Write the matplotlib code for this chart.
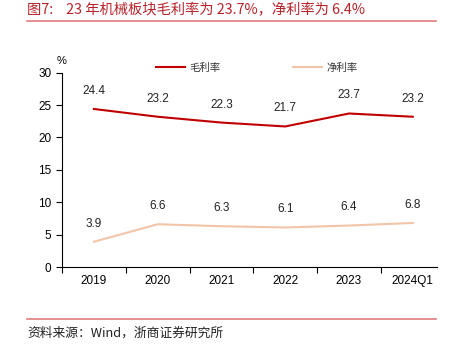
import numpy as np
import matplotlib
matplotlib.use('Agg')
import matplotlib.pyplot as plt
from matplotlib.lines import Line2D

plt.rcParams['font.family'] = ['Liberation Sans', 'Noto Sans CJK SC', 'DejaVu Sans']

years = ['2019', '2020', '2021', '2022', '2023', '2024Q1']
gross = [24.4, 23.2, 22.3, 21.7, 23.7, 23.2]
net = [3.9, 6.6, 6.3, 6.1, 6.4, 6.8]

RED = '#C00000'
PEACH = '#F2C4A8'
CJK = ['Noto Sans CJK SC', 'DejaVu Sans']

fig = plt.figure(figsize=(4.49, 3.49), dpi=100)
ax = fig.add_axes([62/449, 1-267/349, 375/449, (267-72.7)/349])

x = np.arange(len(years))
ax.plot(x, gross, color=RED, lw=1.5, label='毛利率')
ax.plot(x, net, color=PEACH, lw=1.5, label='净利率')
for xi, v in zip(x, gross):
    ax.annotate(f'{v:.1f}', (xi, v), xytext=(0, 13), textcoords='offset points',
                ha='center', va='center', fontsize=8.5, color='#222222')
for xi, v in zip(x, net):
    ax.annotate(f'{v:.1f}', (xi, v), xytext=(0, 13), textcoords='offset points',
                ha='center', va='center', fontsize=8.5, color='#222222')

ax.set_ylim(0, 30)
ax.set_yticks(range(0, 31, 5))
ax.set_xlim(-0.5, 5.38)
ax.set_xticks(x)
ax.set_xticklabels(years)
ax.set_xticks(np.arange(-0.5, 5, 1), minor=True)
ax.tick_params(axis='x', which='major', length=0, labelsize=8.5, pad=6)
ax.tick_params(axis='x', which='minor', length=4, width=0.8)
ax.tick_params(axis='y', length=4, width=0.8, labelsize=8.5)
for s in ['top', 'right']:
    ax.spines[s].set_visible(False)
for s in ['left', 'bottom']:
    ax.spines[s].set_linewidth(0.8)
ax.text(0.0, 1.06, '%', transform=ax.transAxes, ha='center', va='center', fontsize=8)

leg = fig.legend(loc='center', bbox_to_anchor=(0.572, 1-68/349), ncol=2, frameon=False,
                 prop={'family': CJK, 'size': 7.5}, handlelength=2.8, handletextpad=0.4,
                 columnspacing=7.0)
for t in leg.get_texts():
    t.set_color('#333333')

fig.text(27/449, 1-10/349, '图7:    23 年机械板块毛利率为 23.7%，净利率为 6.4%',
         ha='left', va='center', fontsize=10.3, color='#B8232A', family=CJK)
fig.add_artist(Line2D([27/449, 436/449], [1-21/349, 1-21/349], color='#E07B7B', lw=1.2))
fig.add_artist(Line2D([27/449, 436/449], [1-319/349, 1-319/349], color='#E07B7B', lw=1.2))
fig.text(27/449, 1-333/349, '资料来源：Wind，浙商证券研究所',
         ha='left', va='center', fontsize=9.2, color='#222222', family=CJK)

fig.savefig('out.png', dpi=100)
